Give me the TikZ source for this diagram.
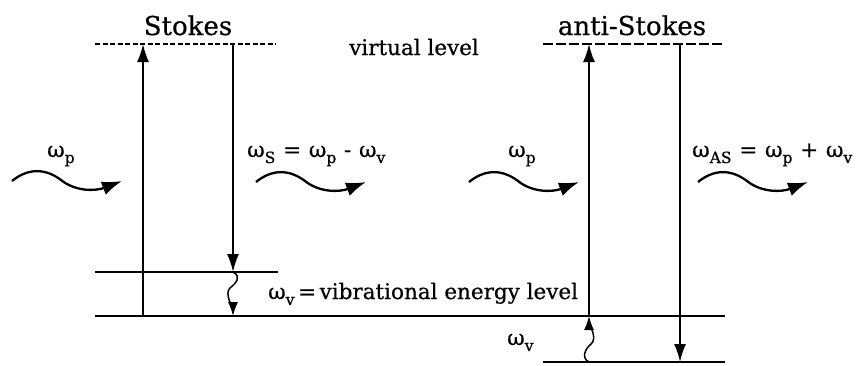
\documentclass[tikz,border=0pt]{standalone}
\usepackage{fontspec}
\setmainfont{DejaVu Serif}[FakeBold=0.6]
\usetikzlibrary{arrows.meta}
\newcommand\wsub[1]{\raisebox{-0.28em}{\fontsize{15.5}{15.5}\selectfont #1}}
\newcommand\wsp{\hspace{0.36em}}
\tikzset{
  wave/.pic={\draw[photon] (0,0) .. controls (16,-13) and (33,-13) .. (49,-1) .. controls (64,11) and (84,10) .. (110,0);}
}
\begin{document}
\begin{tikzpicture}[x=1pt,y=-1pt,
  level/.style={line width=1.8pt},
  vdots/.style={line width=1.6pt, dash pattern=on 5pt off 2.5pt},
  vdash/.style={line width=1.6pt, dash pattern=on 10pt off 3pt},
  tr/.style={line width=1.8pt,-{Latex[length=18pt,width=12pt]}},
  sq/.style={line width=1.5pt,-{Latex[length=14pt,width=10pt]}},
  photon/.style={line width=2.3pt,-{Latex[length=20pt,width=14pt]}},
  lab/.style={inner sep=0pt, anchor=base west, font=\fontsize{21.5}{25}\selectfont},
  ttl/.style={inner sep=0pt, anchor=base, font=\fontsize{26}{30}\selectfont}]
\useasboundingbox (0,0) rectangle (867,365);
% coordinates
\coordinate (Lvl) at (95,44); \coordinate (Lvr) at (276,44);
\coordinate (Lul) at (95,272); \coordinate (Lur) at (278,272);
\coordinate (Gl) at (95,316); \coordinate (Gr) at (725,316);
\coordinate (Lup0) at (143,316); \coordinate (Lup1) at (143,44);
\coordinate (Ldn0) at (233,44); \coordinate (Ldn1) at (233,272);
\coordinate (Lsq1) at (233,316);
\coordinate (Rvl) at (543,44); \coordinate (Rvr) at (725,44);
\coordinate (Rgl) at (543,362); \coordinate (Rgr) at (725,362);
\coordinate (Rup0) at (589,316); \coordinate (Rup1) at (589,44);
\coordinate (Rdn0) at (680,44); \coordinate (Rdn1) at (680,362);
\coordinate (Rsq0) at (589,362);
% levels
\draw[vdots] (Lvl) -- (Lvr);
\draw[vdash] (Rvl) -- (Rvr);
\draw[level] (Lul) -- (Lur);
\draw[level] (Gl) -- (Gr);
\draw[level] (Rgl) -- (Rgr);
% transitions
\draw[tr] (Lup0) -- (Lup1);
\draw[tr] (Ldn0) -- (Ldn1);
\draw[tr] (Rup0) -- (Rup1);
\draw[tr] (Rdn0) -- (Rdn1);
% squiggles
\draw[sq] (Ldn1) .. controls +(9,5) and +(6,-5) .. (230,288) .. controls +(-6,5) and +(0,-5) .. (Lsq1);
\draw[sq] (Rsq0) .. controls +(-8,-4) and +(-6,5) .. (591,344) .. controls +(7,-5) and +(0,5) .. (Rup0);
% photons
\coordinate (W1) at (12,181); \coordinate (W2) at (256,182);
\coordinate (W3) at (469,182); \coordinate (W4) at (698,182);
\pic at (W1) {wave}; \pic at (W2) {wave};
\pic at (W3) {wave}; \pic at (W4) {wave};
% labels
\node[ttl] (stokes) at (188,35) {Stokes};
\node[ttl] (astokes) at (632,35) {anti-Stokes};
\node[lab] (virt) at (349,55) {virtual level};
\node[lab] (wp1) at (47,157) {ω\wsub{p}};
\node[lab] (ws) at (247,157) {ω\wsub{S}\wsp=\wsp ω\wsub{p}\wsp-\wsp ω\wsub{v}};
\node[lab] (wv1) at (268,299) {ω\wsub{v}\,=\,vibrational energy level};
\node[lab] (wp2) at (508,157) {ω\wsub{p}};
\node[lab] (was) at (692,157) {ω\wsub{AS}\wsp=\wsp ω\wsub{p}\wsp+\wsp ω\wsub{v}};
\node[lab] (wv2) at (507,345) {ω\wsub{v}};
\end{tikzpicture}
\end{document}
